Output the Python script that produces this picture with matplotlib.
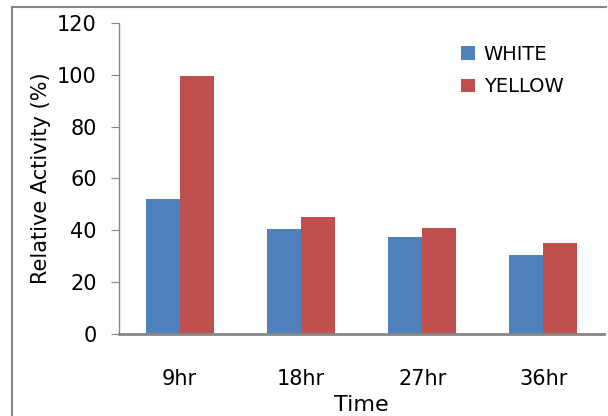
import matplotlib
matplotlib.use("Agg")
import matplotlib.pyplot as plt
from matplotlib.lines import Line2D
import numpy as np

categories = ["9hr", "18hr", "27hr", "36hr"]
white = [52.0, 40.6, 37.5, 30.6]
yellow = [99.5, 45.2, 41.0, 35.2]
yticks = [0, 20, 40, 60, 80, 100, 120]

plt.rcParams['font.family'] = ['DejaVu Sans']

fig = plt.figure(figsize=(6.08, 4.16), dpi=100)
ax = fig.add_axes([119/608, 1 - 334.3/416, (604 - 119)/608, (334.3 - 22.7)/416])

x = np.arange(len(categories))
w = 0.28
ax.bar(x - w/2, white, w, color="#4F81BD", label="WHITE")
ax.bar(x + w/2, yellow, w, color="#C0504D", label="YELLOW")

ax.set_xlim(-0.5, len(categories) - 0.5)
ax.set_ylim(0, 120)
ax.set_yticks(yticks)
ax.set_xticks(x)
ax.set_xticklabels(categories)

spine_col = "#868686"
for s in ["top", "right"]:
    ax.spines[s].set_visible(False)
ax.spines["left"].set_color(spine_col)
ax.spines["bottom"].set_color(spine_col)
ax.spines["bottom"].set_linewidth(2)
ax.spines["left"].set_linewidth(1)

ax.tick_params(axis="y", length=6, color=spine_col, labelsize=15, pad=10)
ax.tick_params(axis="x", length=0, labelsize=15, pad=25)

ax.set_ylabel("Relative Activity (%)", fontsize=15, labelpad=4)
ax.set_xlabel("Time", fontsize=16, labelpad=4)

ax.legend(loc="upper left", bbox_to_anchor=(0.67, 0.985), frameon=False,
          fontsize=14, handlelength=0.7, handleheight=0.7, labelspacing=0.7,
          handletextpad=0.45)

# outer chart frame (left and top edges)
fig.add_artist(Line2D([12/608, 12/608], [0, 1 - 7/416], color=spine_col, lw=1.5,
                      transform=fig.transFigure))
fig.add_artist(Line2D([12/608, 606/608], [1 - 7/416, 1 - 7/416], color=spine_col, lw=1.5,
                      transform=fig.transFigure))

fig.savefig("out.png", dpi=100)
